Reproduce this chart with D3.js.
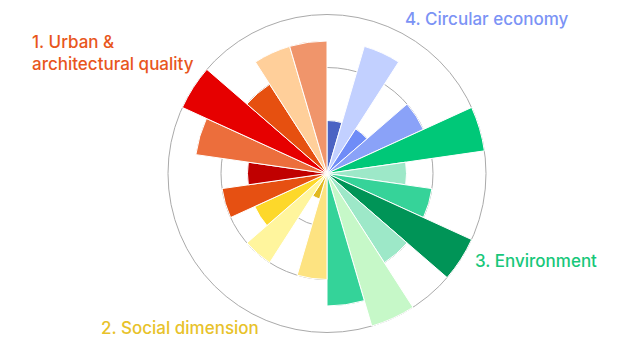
<!DOCTYPE html>
<html>
<head>
<meta charset="utf-8">
<script src="https://cdn.jsdelivr.net/npm/d3@7"></script>
<style>
  body { margin: 0; background: #fff; }
  svg { display: block; font-family: Inter, 'Liberation Sans', Arial, sans-serif; }
</style>
</head>
<body>
<script>
// one entry per bar, clockwise from 12 o'clock
var bar_groups = [4,4,4,4, 3,3,3,3,3,3,3, 2,2,2,2, 1,1,1,1,1,1,1];
var bar_values = [1, 2.5, 1, 2,
                  3, 1.5, 2, 3, 2, 3, 2.5,
                  2, 0.5, 2, 1.5,
                  2, 1.5, 2.5, 3, 2, 2.5, 2.5];
var grid_ticks = [1, 2, 3];
var group_ids = [1, 2, 3, 4];
var group_names = [['1. Urban &', 'architectural quality'], ['2. Social dimension'], ['3. Environment'], ['4. Circular economy']];

// palette
var bar_colors = ['#4b63c3','#c2d0ff','#6f8cf7','#8aa2f8',
                  '#00c878','#9de8c8','#36d399','#009457','#9de8c8','#c6f8c8','#34d399',
                  '#fde381','#e2b91f','#fff59d','#fdd82a',
                  '#e65012','#c00000','#ec6e3c','#e60000','#e65010','#ffcf9a','#f0956b'];
var group_colors = {1: '#e8561c', 2: '#e8c22a', 3: '#17c77a', 4: '#7b93f5'};

var width = 640, height = 360;
var cx = 327, cy = 173.5, outer_r = 159;

var svg = d3.select('body').append('svg').attr('width', width).attr('height', height);
var g = svg.append('g').attr('transform', 'translate(' + cx + ',' + cy + ')');

var r_scale = d3.scaleLinear().domain([0, d3.max(grid_ticks)]).range([0, outer_r]);
var a_scale = d3.scaleBand().domain(d3.range(bar_values.length)).range([0, 2 * Math.PI]);

// grid circles
g.selectAll('circle.grid').data(grid_ticks).enter().append('circle')
  .attr('class', 'grid')
  .attr('r', d => r_scale(d))
  .attr('fill', 'none')
  .attr('stroke', '#aaaaaa')
  .attr('stroke-width', 1);

// bars
var arc = d3.arc()
  .innerRadius(0)
  .outerRadius(d => r_scale(d.value))
  .startAngle(d => a_scale(d.i))
  .endAngle(d => a_scale(d.i) + a_scale.bandwidth());

var bars = bar_values.map((v, i) => ({i: i, value: v, group: bar_groups[i]}));
g.selectAll('path.bar').data(bars).enter().append('path')
  .attr('class', 'bar')
  .attr('d', arc)
  .attr('fill', d => bar_colors[d.i])
  .attr('stroke', '#fff')
  .attr('stroke-width', 1);

// group labels
var label_pos = {1: [32, 48, 22], 2: [101, 334, 0], 3: [475, 267, 0], 4: [405, 25, 0]};
group_ids.forEach(function(id) {
  var p = label_pos[id];
  var t = svg.append('text')
    .attr('x', p[0]).attr('y', p[1])
    .attr('fill', group_colors[id])
    .style('font-size', '17px')
    .style('font-weight', 500);
  group_names[id - 1].forEach(function(line, k) {
    t.append('tspan').attr('x', p[0]).attr('dy', k == 0 ? 0 : p[2]).text(line);
  });
});
</script>
</body>
</html>
